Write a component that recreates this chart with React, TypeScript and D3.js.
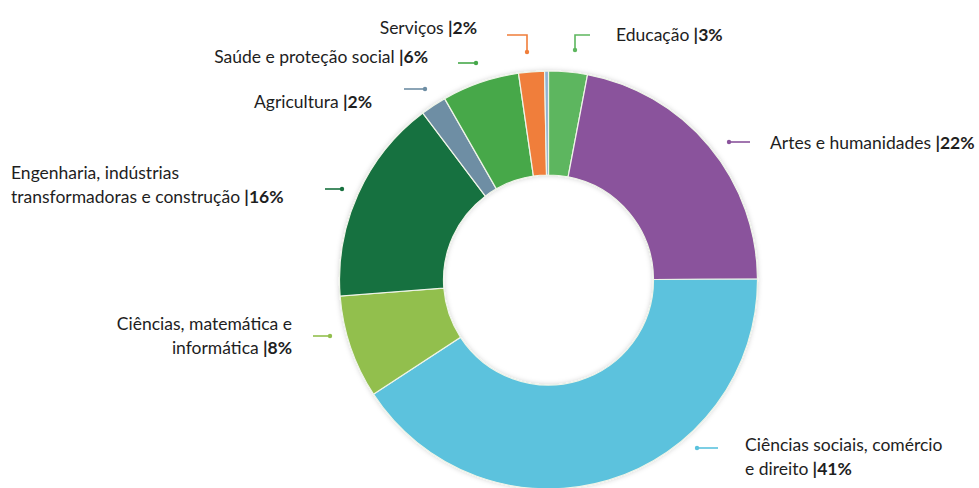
import React, { useEffect } from "react";
import * as d3 from "d3";

// Distribution of graduates by field of education (%)
const categories = [
  "Educação",
  "Artes e humanidades",
  "Ciências sociais, comércio e direito",
  "Ciências, matemática e informática",
  "Engenharia, indústrias transformadoras e construção",
  "Agricultura",
  "Saúde e proteção social",
  "Serviços",
  "Outros",
];
const shares = [3, 22, 41, 8, 16, 2, 6, 2, 0.3];
const sliceColors = [
  "#5db65e",
  "#8a539c",
  "#5bc2dd",
  "#92bf4d",
  "#18713f",
  "#6e8ea4",
  "#46a84a",
  "#f07e3a",
  "#8fb2d4",
];
// Label text lines (last line gets the bold share)
const labelLines: string[][] = [
  ["Educação"],
  ["Artes e humanidades"],
  ["Ciências sociais, comércio", "e direito"],
  ["Ciências, matemática e", "informática"],
  ["Engenharia, indústrias", "transformadoras e construção"],
  ["Agricultura"],
  ["Saúde e proteção social"],
  ["Serviços"],
  [],
];

const W = 979;
const H = 488;
const CX = 548.5;
const CY = 280;
const R_OUT = 209;
const R_IN = 105;
const LINE_H = 23.5;

type Layout = {
  x: number;
  y: number;
  anchor: "start" | "end";
  leader: [number, number][];
  dot: "first" | "last";
};

// Annotation placement for each labelled slice
const layouts: (Layout | null)[] = [
  { x: 616, y: 41, anchor: "start", leader: [[575, 50], [575, 35], [590, 35]], dot: "first" },
  { x: 770, y: 149, anchor: "start", leader: [[729, 142], [750, 142]], dot: "first" },
  { x: 745, y: 451, anchor: "start", leader: [[697, 448], [718, 448]], dot: "first" },
  { x: 292, y: 330, anchor: "end", leader: [[313, 336], [330, 336]], dot: "last" },
  { x: 11, y: 179, anchor: "start", leader: [[325, 189], [342, 189]], dot: "last" },
  { x: 372, y: 108, anchor: "end", leader: [[404, 89], [425, 89]], dot: "last" },
  { x: 428, y: 63, anchor: "end", leader: [[458, 63], [476, 63]], dot: "last" },
  { x: 477, y: 34, anchor: "end", leader: [[507, 35], [527, 35], [527, 52]], dot: "last" },
  null,
];

export default function App() {
  useEffect(() => {
    document.body.style.margin = "0";
  }, []);

  const pie = d3
    .pie<number>()
    .sort(null)
    .value((d) => d)
    .startAngle(0)
    .endAngle(2 * Math.PI);
  const arcs = pie(shares);
  const arc = d3
    .arc<d3.PieArcDatum<number>>()
    .innerRadius(R_IN)
    .outerRadius(R_OUT);
  const line = d3.line();

  return (
    <svg
      width={W}
      height={H}
      style={{ display: "block", background: "#fff" }}
      fontFamily="Lato, 'Open Sans', sans-serif"
      fontSize={17.5}
    >
      <defs>
        <filter id="soft" x="-20%" y="-20%" width="140%" height="140%">
          <feDropShadow dx="0" dy="0" stdDeviation="2.5" floodColor="#000" floodOpacity="0.18" />
        </filter>
      </defs>
      <g transform={`translate(${CX},${CY})`} filter="url(#soft)">
        {arcs.map((a, i) => (
          <path
            key={categories[i]}
            d={arc(a) || ""}
            fill={sliceColors[i]}
            stroke="#eef4e8"
            strokeWidth={1.2}
          />
        ))}
      </g>
      {layouts.map((l, i) => {
        if (!l) return null;
        const pts = l.leader;
        const dotPt = l.dot === "first" ? pts[0] : pts[pts.length - 1];
        const lines = labelLines[i];
        return (
          <g key={"lab" + i}>
            <path d={line(pts) || ""} fill="none" stroke={sliceColors[i]} strokeWidth={1.6} />
            <circle cx={dotPt[0]} cy={dotPt[1]} r={2.2} fill={sliceColors[i]} />
            <text x={l.x} y={l.y} textAnchor={l.anchor} fill="#1e1e1e">
              {lines.map((t, j) => (
                <tspan key={j} x={l.x} dy={j === 0 ? 0 : LINE_H}>
                  {t}
                  {j === lines.length - 1 ? (
                    <tspan fontWeight="bold">{` |${shares[i]}%`}</tspan>
                  ) : null}
                </tspan>
              ))}
            </text>
          </g>
        );
      })}
    </svg>
  );
}
